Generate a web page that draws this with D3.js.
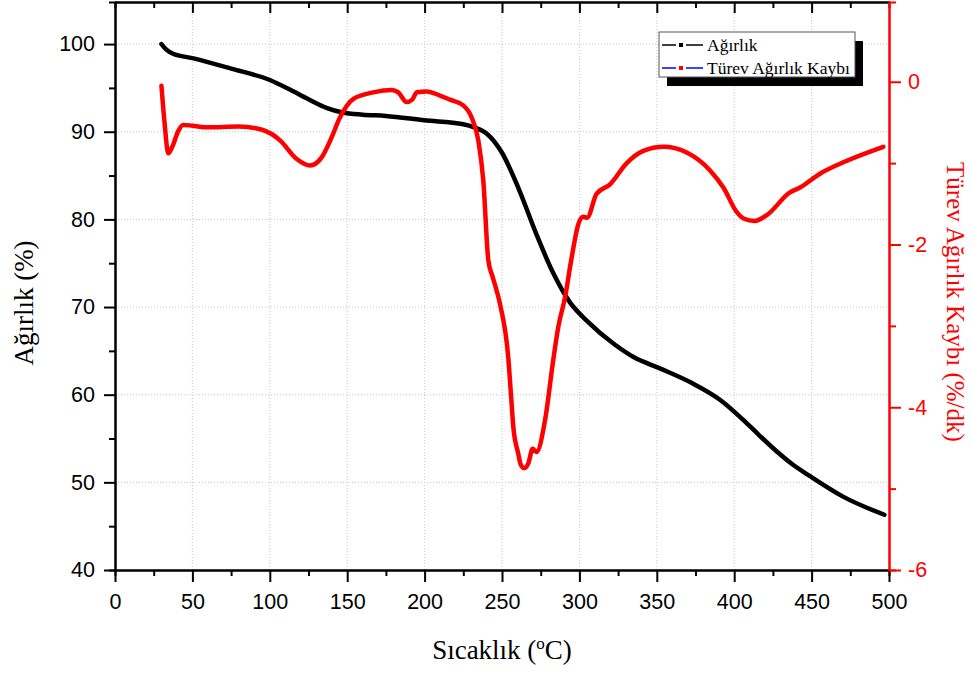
<!DOCTYPE html>
<html>
<meta charset="utf-8">
<script src="https://d3js.org/d3.v7.min.js"></script>
<style>
  body { margin: 0; background: #fff; }
  .tick text { font-family: "Liberation Sans", Arial, sans-serif; font-size: 21.5px; }
  .lbl { font-family: "Liberation Serif", "Times New Roman", serif; }
</style>
<body>
<div id="vis"></div>
<script>

// weight curve (Ağırlık, left axis)
var tempW = [30, 33, 37.5, 50, 75, 100, 112, 125, 137, 147, 160, 175, 200, 225, 232, 240, 250, 261, 272, 283, 294, 305, 323, 335, 352, 373, 391, 406, 416, 427, 438, 449, 470, 497];
var weight = [100.0, 99.4, 98.9, 98.4, 97.2, 95.9, 94.9, 93.7, 92.7, 92.2, 91.95, 91.8, 91.3, 90.85, 90.5, 89.8, 87.6, 83.4, 78.4, 73.9, 70.5, 68.4, 65.7, 64.3, 63.0, 61.3, 59.4, 57.1, 55.4, 53.6, 52.0, 50.7, 48.4, 46.3];

// derivative curve (Türev Ağırlık Kaybı, right axis)
var tempD = [30, 32, 34.4, 37, 41, 44, 50, 60, 80, 95, 106.6, 117.4, 126, 133.5, 140, 145.3, 154, 166.9, 178.7, 183, 188.4, 192, 195, 201.3, 210, 216.4, 225, 230.4, 234.7, 237.9, 241.2, 244, 248.7, 254, 256, 257.3, 260.5, 262, 264.2, 267, 269.8, 272.3, 277.8, 283.1, 286.4, 290.7, 295, 299.3, 302.5, 305, 311, 319.8, 330.6, 341.3, 354.2, 369.3, 384.4, 393, 401.6, 406, 413.4, 421, 436, 442.5, 455.4, 470.5, 496.3];
var deriv = [-0.05, -0.5, -0.88, -0.80, -0.60, -0.53, -0.54, -0.56, -0.55, -0.59, -0.72, -0.95, -1.03, -0.93, -0.68, -0.44, -0.21, -0.13, -0.10, -0.13, -0.25, -0.22, -0.13, -0.12, -0.17, -0.22, -0.29, -0.44, -0.72, -1.21, -2.20, -2.40, -2.73, -3.38, -3.90, -4.24, -4.57, -4.70, -4.75, -4.69, -4.51, -4.55, -4.16, -3.42, -3.01, -2.65, -2.16, -1.75, -1.66, -1.67, -1.38, -1.26, -1.00, -0.85, -0.80, -0.87, -1.09, -1.30, -1.60, -1.68, -1.71, -1.64, -1.36, -1.30, -1.13, -0.99, -0.80];

var xTicks = [0, 50, 100, 150, 200, 250, 300, 350, 400, 450, 500];
var yTicks = [40, 50, 60, 70, 80, 90, 100];
var y2Ticks = [-6, -4, -2, 0];
var seriesNames = ["Ağırlık", "Türev Ağırlık Kaybı"];

var margin = {top: 2, right: 84, bottom: 105, left: 115},
    total_width = 973,
    total_height = 675,
    width = total_width - margin.left - margin.right,
    height = total_height - margin.top - margin.bottom;

var root = d3.select("#vis")
  .append("svg")
    .attr("width", total_width)
    .attr("height", total_height);

var svg = root.append("g")
    .attr("transform", "translate(" + margin.left + "," + margin.top + ")");

var x = d3.scaleLinear().domain([0, 500]).range([0, width]);
var y = d3.scaleLinear().domain([40, 104.8]).range([height, 0]);
var y2 = d3.scaleLinear().domain([-6, 0.98]).range([height, 0]);

// grid
svg.append("g").selectAll("line")
  .data(xTicks.slice(1, -1))
  .enter().append("line")
    .attr("x1", d => x(d)).attr("x2", d => x(d))
    .attr("y1", 0).attr("y2", height)
    .attr("stroke", "#c8c8c8").attr("stroke-width", 1)
    .attr("stroke-dasharray", "1,2");
svg.append("g").selectAll("line")
  .data(yTicks.slice(1))
  .enter().append("line")
    .attr("x1", 0).attr("x2", width)
    .attr("y1", d => y(d)).attr("y2", d => y(d))
    .attr("stroke", "#c8c8c8").attr("stroke-width", 1)
    .attr("stroke-dasharray", "1,2");

// axes
function styleAxis(g, col) {
  g.select(".domain").attr("stroke", col).attr("stroke-width", 2);
  g.selectAll(".tick line").attr("stroke", col).attr("stroke-width", 2);
  g.selectAll(".tick text").attr("fill", col);
}

var minorX = d3.range(25, 500, 50);
var minorY = d3.range(45, 100, 10);
var minorY2 = [-5, -3, -1];
var plain = d => String(d);

svg.append("g").attr("transform", "translate(0," + height + ")")
  .call(d3.axisBottom(x).tickValues(minorX).tickSize(6).tickFormat(""))
  .call(g => styleAxis(g, "#000"));
svg.append("g").attr("transform", "translate(0," + height + ")")
  .call(d3.axisBottom(x).tickValues(xTicks).tickSize(12).tickSizeOuter(0).tickPadding(12).tickFormat(plain))
  .call(g => styleAxis(g, "#000"));

svg.append("g")
  .call(d3.axisBottom(x).tickValues(minorX).tickSize(6).tickFormat(""))
  .call(g => styleAxis(g, "#000"));
svg.append("g")
  .call(d3.axisBottom(x).tickValues(xTicks.slice(1, -1)).tickSize(11).tickSizeOuter(0).tickFormat(""))
  .call(g => styleAxis(g, "#000"));

svg.append("g")
  .call(d3.axisLeft(y).tickValues(minorY).tickSize(6).tickFormat(""))
  .call(g => styleAxis(g, "#000"));
svg.append("g")
  .call(d3.axisLeft(y).tickValues(yTicks).tickSize(11).tickSizeOuter(0).tickPadding(9).tickFormat(plain))
  .call(g => styleAxis(g, "#000"));

svg.append("g").attr("transform", "translate(" + width + ",0)")
  .call(d3.axisRight(y2).tickValues(minorY2).tickSize(7).tickFormat(""))
  .call(g => styleAxis(g, "#ff0000"));
svg.append("g").attr("transform", "translate(" + width + ",0)")
  .call(d3.axisRight(y2).tickValues(y2Ticks).tickSize(12).tickSizeOuter(0).tickPadding(7).tickFormat(plain))
  .call(g => styleAxis(g, "#ff0000"));

// curves
var lineW = d3.line()
  .x((d, i) => x(tempW[i]))
  .y(d => y(d))
  .curve(d3.curveMonotoneX);
var lineD = d3.line()
  .x((d, i) => x(tempD[i]))
  .y(d => y2(d))
  .curve(d3.curveMonotoneX);

svg.append("path")
  .datum(weight)
  .attr("d", lineW)
  .attr("fill", "none")
  .attr("stroke", "#000")
  .attr("stroke-width", 4.5)
  .attr("stroke-linejoin", "round")
  .attr("stroke-linecap", "round");

svg.append("path")
  .datum(deriv)
  .attr("d", lineD)
  .attr("fill", "none")
  .attr("stroke", "#ff0000")
  .attr("stroke-width", 4.5)
  .attr("stroke-linejoin", "round")
  .attr("stroke-linecap", "round");

// axis titles
root.append("text")
  .attr("class", "lbl")
  .attr("transform", "translate(33,303) rotate(-90)")
  .attr("text-anchor", "middle")
  .style("font-size", "27px")
  .text("Ağırlık (%)");

var xt = root.append("text")
  .attr("class", "lbl")
  .attr("x", 502).attr("y", 659)
  .attr("text-anchor", "middle")
  .style("font-size", "27px");
xt.append("tspan").text("Sıcaklık (");
xt.append("tspan").attr("dy", -10).style("font-size", "17px").text("o");
xt.append("tspan").attr("dy", 10).text("C)");

root.append("text")
  .attr("class", "lbl")
  .attr("transform", "translate(947,302) rotate(90)")
  .attr("text-anchor", "middle")
  .attr("fill", "#ff0000")
  .style("font-size", "25px")
  .text("Türev Ağırlık Kaybı (%/dk)");

// legend
var lg = root.append("g").attr("transform", "translate(659,32)");
lg.append("rect").attr("x", 8).attr("y", 9).attr("width", 196).attr("height", 45).attr("fill", "#000");
lg.append("rect").attr("x", 0).attr("y", 0).attr("width", 196).attr("height", 45)
  .attr("fill", "#fff").attr("stroke", "#555").attr("stroke-width", 1);

var legCols = [["#000", "#000"], ["#0000ff", "#ff0000"]];
seriesNames.forEach(function(name, i) {
  var yy = 13 + i * 23;
  var row = lg.append("g").attr("transform", "translate(0," + yy + ")");
  row.append("line").attr("x1", 3).attr("x2", 17).attr("y1", 0).attr("y2", 0)
    .attr("stroke", legCols[i][0]).attr("stroke-width", 1.5);
  row.append("line").attr("x1", 27).attr("x2", 44).attr("y1", 0).attr("y2", 0)
    .attr("stroke", legCols[i][0]).attr("stroke-width", 1.5);
  row.append("rect").attr("x", 20).attr("y", -2).attr("width", 4).attr("height", 4)
    .attr("fill", legCols[i][1]);
  row.append("text").attr("class", "lbl")
    .attr("x", 48).attr("y", 6)
    .style("font-size", "17.5px")
    .text(name);
});

</script>
</body>
</html>
